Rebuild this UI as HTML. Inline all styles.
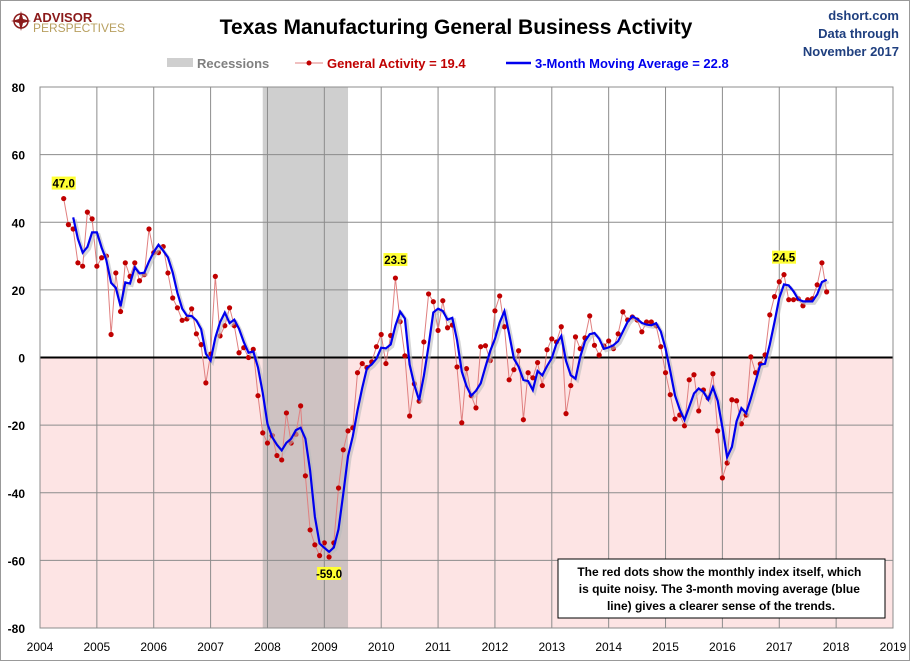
<!DOCTYPE html>
<html><head><meta charset="utf-8"><style>
body{margin:0;background:#fff;}
#wrap{position:relative;width:908px;height:659px;border:1px solid #999;overflow:hidden;font-family:"Liberation Sans",sans-serif;}
</style></head><body>
<div id="wrap">
<svg id="chart" width="908" height="659" xmlns="http://www.w3.org/2000/svg">
<g>
<circle cx="20" cy="20" r="7" fill="none" stroke="#8b1a1a" stroke-width="1.5"/>
<polygon points="20,10 22,18 30,20 22,22 20,30 18,22 10,20 18,18" fill="#8b1a1a"/>
<text x="32" y="21" font-size="13" font-weight="bold" fill="#8b1a1a">ADVISOR</text>
<text x="32" y="31" font-size="12" fill="#b8a060">PERSPECTIVES</text>
</g>
<text x="455" y="33" text-anchor="middle" font-size="21" font-weight="bold" fill="#000">Texas Manufacturing General Business Activity</text>
<g font-size="13" font-weight="bold" fill="#1f3f7f" text-anchor="end">
<text x="898" y="19">dshort.com</text><text x="898" y="37">Data through</text><text x="898" y="55">November 2017</text></g>
<g font-size="13" font-weight="bold">
<rect x="166" y="57" width="26" height="9" fill="#cfcfcf"/>
<text x="196" y="67" fill="#808080">Recessions</text>
<line x1="294" y1="62" x2="322" y2="62" stroke="#e08080"/>
<circle cx="308" cy="62" r="2.5" fill="#c00000"/>
<text x="326" y="67" fill="#c00000">General Activity = 19.4</text>
<line x1="505" y1="62" x2="530" y2="62" stroke="#0000ee" stroke-width="2.5"/>
<text x="534" y="67" fill="#0000ee">3-Month Moving Average = 22.8</text>
</g>
<g id="plot"></g>
<g>
<rect x="557" y="558" width="327" height="59" fill="#fff" stroke="#000"/>
<text font-size="12" font-weight="bold" fill="#000" text-anchor="middle">
<tspan x="720" y="575">The red dots show the monthly  index itself, which</tspan>
<tspan x="720" y="592">is quite noisy. The 3-month moving average (blue</tspan>
<tspan x="720" y="609">line) gives a clearer sense of the trends.</tspan></text>
</g>
</svg>
</div>
<script>
const startMonth = 5; // Jun 2004, months since Jan 2004
const generalActivity = [47,39.3,38,28,27,43,41,27,29.5,30,6.8,25,13.6,28,24,28,22.7,24.5,38,31,31,32.8,25,17.6,14.7,11,11.4,14.4,7,3.8,-7.5,1,24,6.4,9.4,14.7,9.4,1.4,2.9,0,2.4,-11.3,
-22.3,-25.3,-23.1,-29,-30.3,-16.4,-25.3,-22.7,-14.3,-35,-51,-55.4,-58.6,-54.8,-59,-54.8,-38.6,-27.3,-21.7,-20.8,-4.5,-1.8,-3,-1.3,3.2,6.8,-1.8,6.5,23.5,10.6,0.5,-17.3,-7.8,
-12.9,4.6,18.8,16.5,8,16.8,8.8,9.6,-2.8,-19.3,-3.3,-11.3,-14.9,3.2,3.5,-0.9,13.8,18.2,9.1,-6.6,-3.6,2,-18.4,-4.5,-6,-1.5,-8.3,2.3,5.5,4.6,9.1,-16.6,-8.3,6.1,2.6,5.8,12.3,3.6,0.7,3.4,4.9,2.6,7,13.5,11.1,12,11.1,
7.6,10.5,10.5,9.4,3.2,-4.5,-11,-18.2,-17,-20.2,-6.6,-5.1,-15.8,-9.6,-12,-4.8,-21.7,-35.6,-31.2,-12.5,-12.8,-19.6,-17,0.2,-4.5,-1.9,0.8,12.6,18,22.4,24.5,17.1,17.1,17.4,15.3,17.1,17.4,21.5,28,19.4];
const yTicks = [80,60,40,20,0,-20,-40,-60,-80];
const xTickYears = [2004,2005,2006,2007,2008,2009,2010,2011,2012,2013,2014,2015,2016,2017,2018,2019];
const recessionStart = 47, recessionEnd = 65; // months since Jan 2004
const callouts = [{m:5,v:47.0,t:"47.0",dy:-12},{m:75,v:23.5,t:"23.5",dy:-15},{m:61,v:-59.0,t:"-59.0",dy:20},{m:157,v:24.5,t:"24.5",dy:-14}];

const L=39,R=892,T=86,B=627;
const xs=m=>L+(m/180)*(R-L);
const ys=v=>T+(80-v)/160*(B-T);
const NS="http://www.w3.org/2000/svg";
const g=document.getElementById('plot');
function mk(tag,attrs,parent){const e=document.createElementNS(NS,tag);for(const k in attrs)e.setAttribute(k,attrs[k]);(parent||g).appendChild(e);return e;}
let e;
e=mk('rect',{x:L,y:ys(0),width:R-L,height:B-ys(0),fill:'#fde4e4'});


e=mk('rect',{x:xs(recessionStart),y:T,width:xs(recessionEnd)-xs(recessionStart),height:B-T,fill:'#a0a0a0','fill-opacity':0.5});


yTicks.forEach(v=>{
  e=mk('line',{x1:L,x2:R,y1:ys(v),y2:ys(v),stroke:'#8c8c8c','stroke-width':1});
  
  
  e=mk('text',{x:24,y:ys(v)+5,'text-anchor':'end','font-size':12,'font-weight':'bold'});
  e.textContent=v;
  
  
});
xTickYears.forEach(yr=>{
  const m=(yr-2004)*12;
  e=mk('line',{x1:xs(m),x2:xs(m),y1:T,y2:B,stroke:'#8c8c8c','stroke-width':1});
  
  
  e=mk('text',{x:xs(m),y:650,'text-anchor':'middle','font-size':12});
  e.textContent=yr;
  
  
});
e=mk('line',{x1:L,x2:R,y1:ys(0),y2:ys(0),stroke:'#000','stroke-width':2});


e=mk('rect',{x:L,y:T,width:R-L,height:B-T,fill:'none',stroke:'#8c8c8c'});


const pts=generalActivity.map((v,i)=>xs(startMonth+i).toFixed(1)+','+ys(v).toFixed(1)).join(' ');
e=mk('polyline',{points:pts,fill:'none',stroke:'#e08080','stroke-width':1});


generalActivity.forEach((v,i)=>{
  e=mk('circle',{cx:xs(startMonth+i),cy:ys(v),r:2.6,fill:'#c00000'});
  
  
});
const ma=[];
for(let i=2;i<generalActivity.length;i++){ma.push([startMonth+i,(generalActivity[i]+generalActivity[i-1]+generalActivity[i-2])/3]);}
const mapts=ma.map(p=>xs(p[0]).toFixed(1)+','+ys(p[1]).toFixed(1)).join(' ');
e=mk('polyline',{points:mapts,fill:'none',stroke:'#bbb','stroke-width':3,transform:'translate(2,2)','stroke-opacity':0.6});


e=mk('polyline',{points:mapts,fill:'none',stroke:'#0000ee','stroke-width':2.2});


callouts.forEach(c=>{
  const x=xs(c.m),y=ys(c.v)+c.dy;
  e=mk('rect',{x:x-12,y:y-10,width:24,height:13,fill:'#ffff33'});
  
  
  e=mk('text',{x:x,y:y+1,'text-anchor':'middle','font-size':11.5,'font-weight':'bold'});
  e.textContent=c.t;
  
  
});
</script>
</body></html>
